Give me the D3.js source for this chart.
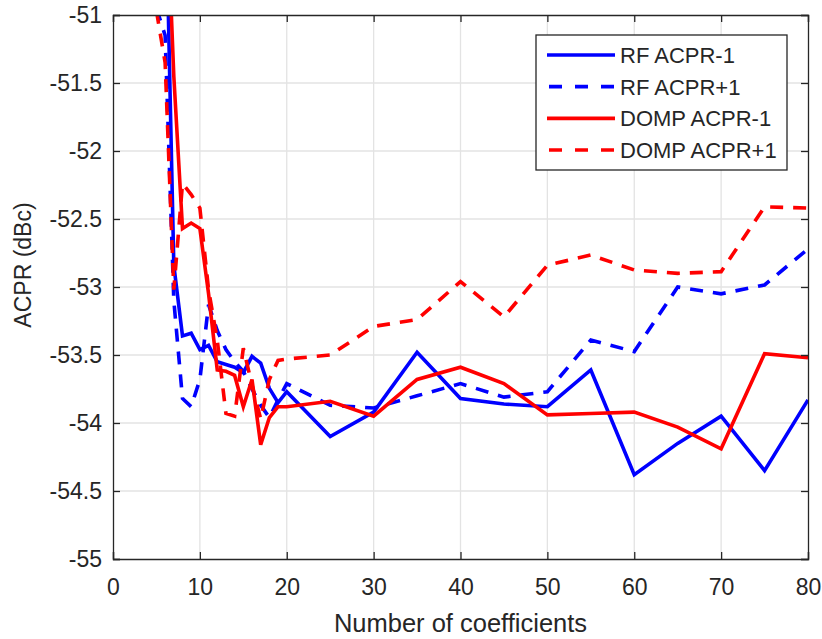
<!DOCTYPE html>
<html>
<head>
<meta charset="utf-8">
<script src="https://cdn.jsdelivr.net/npm/d3@7"></script>
<style>
  body { margin: 0; background: #fff; }
  text { font-family: "Liberation Sans", Arial, Helvetica, sans-serif; fill: #262626; }
</style>
</head>
<body>
<div id="chart"></div>
<script>
// number of coefficients
var coeffs = [5, 6, 7, 8, 9, 10, 11, 12, 13, 14, 15, 16, 17, 18, 19, 20,
              25, 30, 35, 40, 45, 50, 55, 60, 65, 70, 75, 80];

// ACPR values (dBc)
var rfMinus = [-48.5, -49.9, -52.84, -53.36, -53.34, -53.46, -53.43, -53.55, -53.57, -53.59, -53.63, -53.51, -53.56, -53.745, -53.85, -53.77,
               -54.10, -53.92, -53.48, -53.82, -53.86, -53.88, -53.61, -54.38, -54.15, -53.95, -54.35, -53.83];
var rfPlus = [-50.95, -51.15, -53.1, -53.82, -53.88, -53.68, -53.13, -53.32, -53.46, -53.55, -53.62, -53.75, -53.87, -53.96, -53.83, -53.71,
              -53.87, -53.89, -53.80, -53.71, -53.81, -53.77, -53.39, -53.475, -53.0, -53.05, -52.985, -52.72];
var dompMinus = [-47.5, -49.85, -51.45, -52.57, -52.53, -52.57, -53.05, -53.61, -53.62, -53.65, -53.88, -53.68, -54.16, -53.96, -53.88, -53.88,
                 -53.84, -53.95, -53.68, -53.59, -53.71, -53.94, -53.93, -53.92, -54.03, -54.19, -53.49, -53.52];
var dompPlus = [-50.97, -51.35, -53.02, -52.24, -52.32, -52.42, -53.02, -53.39, -53.93, -53.95, -53.45, -53.72, -53.97, -53.68, -53.54, -53.53,
                -53.50, -53.29, -53.24, -52.96, -53.22, -52.84, -52.765, -52.875, -52.9, -52.887, -52.41, -52.42];

var seriesNames = ["RF ACPR-1", "RF ACPR+1", "DOMP ACPR-1", "DOMP ACPR+1"];
var seriesColors = ["#0000ff", "#0000ff", "#ff0000", "#ff0000"];
var seriesDashed = [false, true, false, true];

var xTicks = [0, 10, 20, 30, 40, 50, 60, 70, 80];
var yTicks = [-55, -54.5, -54, -53.5, -53, -52.5, -52, -51.5, -51];

var W = 822, H = 639;
var margin = {top: 15, right: 14, bottom: 80, left: 113},
    width = W - margin.left - margin.right,
    height = H - margin.top - margin.bottom;

var svg = d3.select("#chart").append("svg")
    .attr("width", W)
    .attr("height", H);

var g = svg.append("g")
    .attr("transform", "translate(" + margin.left + "," + margin.top + ")");

var x = d3.scaleLinear().domain([0, 80]).range([0, width]);
var y = d3.scaleLinear().domain([-55, -51]).range([height, 0]);

// grid
g.append("g").selectAll("line").data(xTicks.slice(1, -1)).enter().append("line")
    .attr("x1", d => x(d)).attr("x2", d => x(d))
    .attr("y1", 0).attr("y2", height)
    .attr("stroke", "#e3e3e3").attr("stroke-width", 1.3);
g.append("g").selectAll("line").data(yTicks.slice(1, -1)).enter().append("line")
    .attr("y1", d => y(d)).attr("y2", d => y(d))
    .attr("x1", 0).attr("x2", width)
    .attr("stroke", "#e3e3e3").attr("stroke-width", 1.3);

g.append("clipPath").attr("id", "clip")
  .append("rect").attr("width", width).attr("height", height);

var allSeries = [rfMinus, rfPlus, dompMinus, dompPlus];
var line = d3.line()
    .x((d, i) => x(coeffs[i]))
    .y(d => y(d));

var plot = g.append("g").attr("clip-path", "url(#clip)");
// draw in order so DOMP lines sit on top as in the figure
allSeries.forEach(function(s, k) {
  plot.append("path")
    .datum(s)
    .attr("d", line)
    .attr("fill", "none")
    .attr("stroke", seriesColors[k])
    .attr("stroke-width", 3.6)
    .attr("stroke-linejoin", "miter")
    .attr("stroke-dasharray", seriesDashed[k] ? "13,10" : null);
});

// axes with inward ticks
var tickLen = 7;
var xAxis = g.append("g").attr("transform", "translate(0," + height + ")")
  .call(d3.axisBottom(x).tickValues(xTicks).tickSize(-tickLen).tickPadding(20).tickFormat(d3.format("d")));
var xAxisTop = g.append("g")
  .call(d3.axisTop(x).tickValues(xTicks).tickSize(-tickLen).tickFormat(""));
var yAxis = g.append("g")
  .call(d3.axisLeft(y).tickValues(yTicks).tickSize(-tickLen).tickPadding(11).tickFormat(d => String(d)));
var yAxisRight = g.append("g").attr("transform", "translate(" + width + ",0)")
  .call(d3.axisRight(y).tickValues(yTicks).tickSize(-tickLen).tickFormat(""));

[xAxis, xAxisTop, yAxis, yAxisRight].forEach(function(a) {
  a.selectAll("path").attr("stroke", "#262626").attr("stroke-width", 1.3);
  a.selectAll("line").attr("stroke", "#262626").attr("stroke-width", 1.3);
  a.selectAll("text").style("font-size", "23px").attr("fill", "#262626")
    .style("font-family", "'Liberation Sans', Arial, sans-serif");
});

// axis labels
svg.append("text")
  .attr("x", margin.left + width / 2)
  .attr("y", 632)
  .attr("text-anchor", "middle")
  .style("font-size", "25.5px")
  .text("Number of coefficients");

svg.append("text")
  .attr("transform", "translate(31," + (margin.top + height / 2 - 22) + ") rotate(-90)")
  .attr("text-anchor", "middle")
  .style("font-size", "23px")
  .text("ACPR (dBc)");

// legend
var legend = svg.append("g").attr("transform", "translate(536,35)");
legend.append("rect")
  .attr("width", 251).attr("height", 135)
  .attr("fill", "#fff").attr("stroke", "#262626").attr("stroke-width", 1.3);
var rowY = d3.scaleLinear().domain([0, 3]).range([20, 115]);
seriesNames.forEach(function(name, k) {
  legend.append("line")
    .attr("x1", 11).attr("x2", 79)
    .attr("y1", rowY(k)).attr("y2", rowY(k))
    .attr("stroke", seriesColors[k])
    .attr("stroke-width", 3.6)
    .attr("stroke-dasharray", seriesDashed[k] ? "13,13" : null)
    .attr("stroke-dashoffset", seriesDashed[k] ? -2 : null);
  legend.append("text")
    .attr("x", 84).attr("y", rowY(k))
    .attr("dy", "0.36em")
    .style("font-size", "22px")
    .attr("fill", "#000")
    .text(name);
});
</script>
</body>
</html>
